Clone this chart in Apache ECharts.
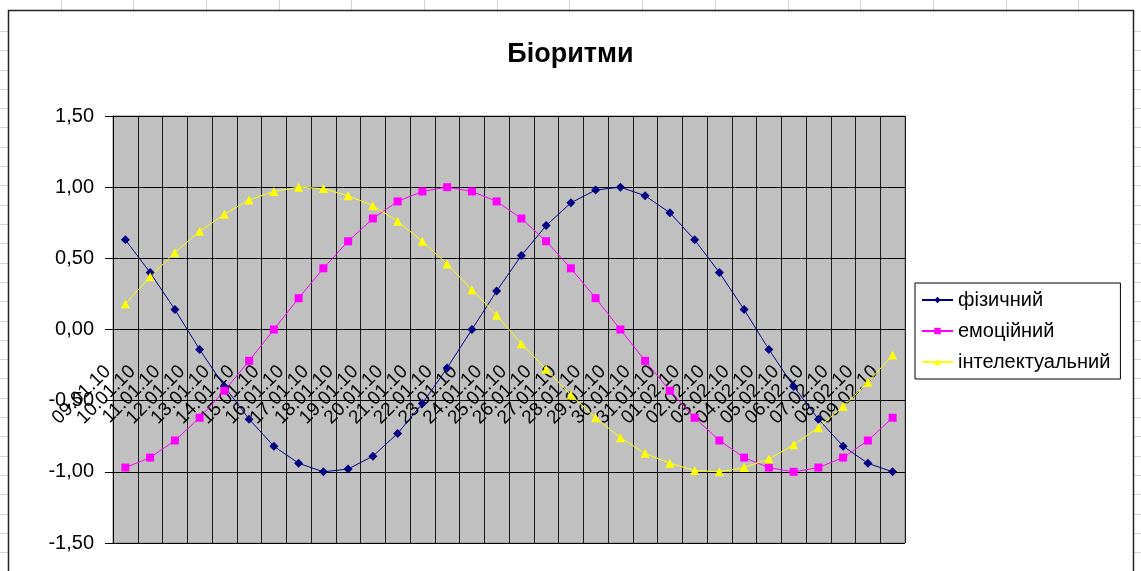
<!DOCTYPE html>
<html>
<head>
<meta charset="utf-8">
<title>Біоритми</title>
<script src="https://cdn.jsdelivr.net/npm/echarts@6/dist/echarts.min.js"></script>
<style>
  html, body { margin: 0; padding: 0; background: #fff; }
  #chart { width: 1141px; height: 571px; }
</style>
</head>
<body>
<div id="chart"></div>
<script>
// дати
var dates = ['09.01.10', '10.01.10', '11.01.10', '12.01.10', '13.01.10', '14.01.10', '15.01.10', '16.01.10',
  '17.01.10', '18.01.10', '19.01.10', '20.01.10', '21.01.10', '22.01.10', '23.01.10', '24.01.10',
  '25.01.10', '26.01.10', '27.01.10', '28.01.10', '29.01.10', '30.01.10', '31.01.10', '01.02.10',
  '02.02.10', '03.02.10', '04.02.10', '05.02.10', '06.02.10', '07.02.10', '08.02.10', '09.02.10'];

var fizychnyi = [0.63, 0.40, 0.14, -0.14, -0.40, -0.63, -0.82, -0.94, -1.00, -0.98, -0.89, -0.73, -0.52, -0.27, 0.00, 0.27,
  0.52, 0.73, 0.89, 0.98, 1.00, 0.94, 0.82, 0.63, 0.40, 0.14, -0.14, -0.40, -0.63, -0.82, -0.94, -1.00];

var emotsiinyi = [-0.97, -0.90, -0.78, -0.62, -0.43, -0.22, 0.00, 0.22, 0.43, 0.62, 0.78, 0.90, 0.97, 1.00, 0.97, 0.90,
  0.78, 0.62, 0.43, 0.22, 0.00, -0.22, -0.43, -0.62, -0.78, -0.90, -0.97, -1.00, -0.97, -0.90, -0.78, -0.62];

var intelektualnyi = [0.18, 0.37, 0.54, 0.69, 0.81, 0.91, 0.97, 1.00, 0.99, 0.94, 0.87, 0.76, 0.62, 0.46, 0.28, 0.10,
  -0.10, -0.28, -0.46, -0.62, -0.76, -0.87, -0.94, -0.99, -1.00, -0.97, -0.91, -0.81, -0.69, -0.54, -0.37, -0.18];

var yTicks = { min: -1.5, max: 1.5, step: 0.5 };

var FONT = 'Arial, "Liberation Sans", sans-serif';

// фон аркуша excel
var sheet = [];
for (var x = 60.5; x < 1141; x += 72.7) {
  sheet.push({ type: 'line', silent: true, z: -1, shape: { x1: Math.round(x) + 0.5, y1: 0, x2: Math.round(x) + 0.5, y2: 10 }, style: { stroke: '#d4d4d4', lineWidth: 1 } });
}
for (var y = 31; y < 571; y += 19.3) {
  sheet.push({ type: 'line', silent: true, z: -1, shape: { x1: 1134, y1: Math.round(y) + 0.5, x2: 1141, y2: Math.round(y) + 0.5 }, style: { stroke: '#d4d4d4', lineWidth: 1 } });
  sheet.push({ type: 'line', silent: true, z: -1, shape: { x1: 0, y1: Math.round(y) + 0.5, x2: 8, y2: Math.round(y) + 0.5 }, style: { stroke: '#d4d4d4', lineWidth: 1 } });
}
sheet.push({ type: 'rect', silent: true, z: -1, shape: { x: 8.5, y: 10.5, width: 1125, height: 600 }, style: { fill: '#fff', stroke: '#222', lineWidth: 1.5 } });

var chart = echarts.init(document.getElementById('chart'));

var option = {
  backgroundColor: '#fff',
  animation: false,
  graphic: sheet,
  title: {
    text: 'Біоритми',
    left: 'center',
    top: 36,
    textStyle: { fontFamily: FONT, fontSize: 27, fontWeight: 'bold', color: '#000' }
  },
  legend: {
    orient: 'vertical',
    left: 915,
    top: 283,
    padding: [6, 10, 6, 6],
    itemGap: 9,
    itemWidth: 31,
    itemHeight: 8,
    backgroundColor: '#fff',
    borderColor: '#000',
    borderWidth: 1,
    textStyle: { fontFamily: FONT, fontSize: 20, color: '#000', lineHeight: 22 },
    data: ['фізичний', 'емоційний', 'інтелектуальний']
  },
  grid: {
    left: 113,
    right: 236,
    top: 116,
    bottom: 28,
    outerBoundsMode: 'none',
    containLabel: false,
    show: true,
    backgroundColor: '#c0c0c0',
    borderColor: '#808080',
    borderWidth: 1
  },
  xAxis: {
    type: 'category',
    data: dates,
    boundaryGap: true,
    offset: -214,
    axisLine: { onZero: false, lineStyle: { color: '#000', width: 1 } },
    axisTick: { show: false },
    axisLabel: {
      interval: 0,
      rotate: 45,
      margin: 22,
      padding: [0, 25, 0, 0],
      hideOverlap: false,
      fontFamily: FONT,
      fontSize: 19,
      color: '#000'
    },
    splitLine: { show: true, interval: 0, lineStyle: { color: '#1a1a1a', width: 1 } }
  },
  yAxis: {
    type: 'value',
    min: yTicks.min,
    max: yTicks.max,
    interval: yTicks.step,
    axisLine: { show: true, lineStyle: { color: '#000', width: 1 } },
    axisTick: { show: true, inside: false, length: 8, lineStyle: { color: '#000' } },
    axisLabel: {
      margin: 19,
      fontFamily: FONT,
      fontSize: 20,
      color: '#000',
      formatter: function (v) { return v.toFixed(2).replace('.', ','); }
    },
    splitLine: { show: true, lineStyle: { color: '#000', width: 1 } }
  },
  series: [
    {
      name: 'фізичний',
      type: 'line',
      data: fizychnyi,
      symbol: 'diamond',
      symbolSize: 9,
      showAllSymbol: true,
      lineStyle: { color: '#000080', width: 1 },
      itemStyle: { color: '#000080' }
    },
    {
      name: 'емоційний',
      type: 'line',
      data: emotsiinyi,
      symbol: 'rect',
      symbolSize: 8,
      showAllSymbol: true,
      lineStyle: { color: '#ff00ff', width: 1 },
      itemStyle: { color: '#ff00ff' }
    },
    {
      name: 'інтелектуальний',
      type: 'line',
      data: intelektualnyi,
      symbol: 'triangle',
      symbolSize: 9,
      showAllSymbol: true,
      lineStyle: { color: '#ffff00', width: 1 },
      itemStyle: { color: '#ffff00' }
    }
  ]
};

option && chart.setOption(option);
</script>
</body>
</html>
